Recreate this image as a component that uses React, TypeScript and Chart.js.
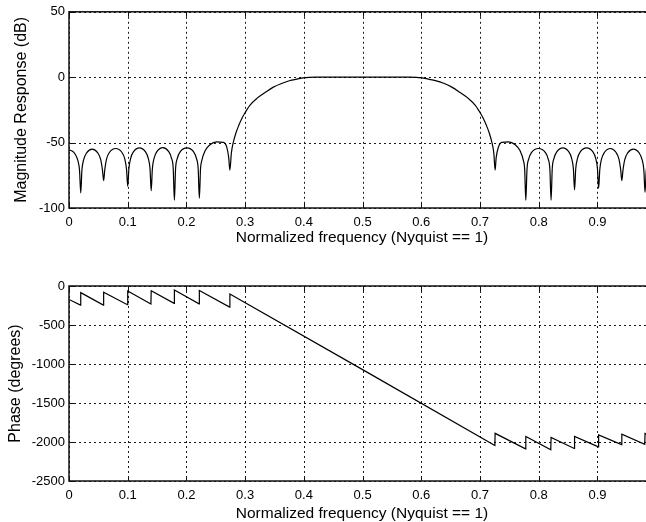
import React, { useEffect, useRef } from 'react';
import { Chart, registerables } from 'chart.js';

Chart.register(...registerables);

// ---------- data ----------
const magFreq = [
  0.000, 0.006, 0.010, 0.015, 0.018, 0.020,
  0.022, 0.025, 0.030, 0.0395, 0.049, 0.054, 0.057, 0.059,
  0.061, 0.064, 0.069, 0.0795, 0.090, 0.095, 0.098, 0.100,
  0.102, 0.105, 0.110, 0.120, 0.130, 0.135, 0.138, 0.140,
  0.142, 0.145, 0.150, 0.160, 0.1695, 0.1745, 0.1775, 0.1795,
  0.1815, 0.1845, 0.1895, 0.2007, 0.212, 0.217, 0.220, 0.222,
  0.224, 0.226, 0.2317, 0.240, 0.2516, 0.263, 0.2686, 0.272, 0.274,
  0.2765, 0.280, 0.284, 0.289, 0.295, 0.300, 0.308, 0.320, 0.334, 0.348, 0.362, 0.3765, 0.388, 0.399, 0.420,
  0.580, 0.601, 0.612, 0.624, 0.638, 0.652, 0.666, 0.680, 0.692, 0.700, 0.705, 0.711, 0.716, 0.720, 0.7235, 0.7257,
  0.7275, 0.7314, 0.737, 0.7484, 0.760, 0.7683, 0.774, 0.776, 0.778,
  0.780, 0.783, 0.788, 0.7995, 0.811, 0.816, 0.819, 0.821,
  0.823, 0.826, 0.831, 0.841, 0.851, 0.856, 0.859, 0.861,
  0.863, 0.866, 0.871, 0.8815, 0.892, 0.897, 0.900, 0.902,
  0.904, 0.907, 0.912, 0.922, 0.9315, 0.9365, 0.9395, 0.9415,
  0.9435, 0.9465, 0.9515, 0.961, 0.971, 0.976, 0.979, 0.981,
  0.983, 0.986,
];
const magDb = [
  -55.6, -56.6, -58.5, -63.6, -71.6, -88.5,
  -71, -63, -57.9, -55, -57.9, -63, -71, -79,
  -70.5, -62.5, -57.4, -54.5, -57.4, -62.5, -70.5, -83.5,
  -70, -62, -56.9, -54, -56.9, -62, -70, -86.8,
  -69.8, -61.8, -56.7, -53.8, -56.7, -61.8, -69.8, -94,
  -70, -62, -56.9, -54, -56.9, -62, -70, -92.6,
  -70, -64, -56.3, -51.7, -49.5, -49.8, -53.3, -61.5, -71,
  -58, -49.5, -43, -37, -31, -27, -21.5, -16.2, -11.7, -7.6, -4.8, -2.5, -1.5, -0.5, 0,
  0, -0.5, -1.5, -2.6, -4.6, -7.6, -11.7, -16.2, -21.5, -27, -31, -37, -43, -49.5, -58, -71,
  -61.5, -53.3, -49.8, -49.5, -51.7, -56.3, -64, -70, -94,
  -70.5, -62.5, -57.4, -54.5, -57.4, -62.5, -70.5, -94,
  -70, -62, -56.9, -54, -56.9, -62, -70, -86,
  -70, -62, -56.9, -54, -56.9, -62, -70, -85,
  -70.5, -62.5, -57.4, -54.5, -57.4, -62.5, -70.5, -79,
  -71, -63, -57.9, -55, -57.9, -63, -71, -88,
  -72, -63.5,
];

const phaseFreq = [
  0, 0.0195, 0.0200, 0.0585, 0.0590, 0.0995, 0.1000, 0.1395, 0.1400,
  0.1790, 0.1795, 0.2215, 0.2220, 0.2735, 0.2740, 0.5000,
  0.7253, 0.7257, 0.7775, 0.7780, 0.8205, 0.8210, 0.8605, 0.8610,
  0.9015, 0.9020, 0.9410, 0.9415, 0.9805, 0.9810, 0.9860,
];
const phaseDeg = [
  -172, -245, -85, -245, -80, -240, -65, -230, -60,
  -222, -52, -228, -58, -270, -103, -1072,
  -2045, -1889, -2088, -1930, -2100, -1942, -2083, -1928,
  -2062, -1910, -2034, -1900, -2030, -1890, -1912,
];

const xTicks = [0, 0.1, 0.2, 0.3, 0.4, 0.5, 0.6, 0.7, 0.8, 0.9];
const xTickLabels = ['0', '0.1', '0.2', '0.3', '0.4', '0.5', '0.6', '0.7', '0.8', '0.9'];
const magTicks = [-100, -50, 0, 50];
const magTickLabels = ['-100', '-50', '0', '50'];
const phaseTicks = [-2500, -2000, -1500, -1000, -500, 0];
const phaseTickLabels = ['-2500', '-2000', '-1500', '-1000', '-500', '0'];

const xTitle = 'Normalized frequency (Nyquist == 1)';
const magTitle = 'Magnitude Response (dB)';
const phaseTitle = 'Phase (degrees)';

// ---------- styling ----------
const FONT = "'Liberation Sans', Arial, Helvetica, sans-serif";

const matlabAxesPlugin = {
  id: 'matlabAxes',
  beforeDatasetsDraw(chart: any) {
    const { ctx, chartArea } = chart;
    const { left, right, top, bottom } = chartArea;
    const xs = chart.scales.x;
    const ys = chart.scales.y;
    ctx.save();
    ctx.strokeStyle = '#1a1a1a';
    ctx.lineWidth = 1;
    ctx.setLineDash([2, 3]);
    xs.ticks.forEach((t: any) => {
      const px = Math.round(xs.getPixelForValue(t.value)) + 0.5;
      ctx.beginPath();
      ctx.moveTo(px, top);
      ctx.lineTo(px, bottom);
      ctx.stroke();
    });
    ys.ticks.forEach((t: any) => {
      const py = Math.round(ys.getPixelForValue(t.value)) + 0.5;
      ctx.beginPath();
      ctx.moveTo(left, py);
      ctx.lineTo(right, py);
      ctx.stroke();
    });
    ctx.restore();
  },
  afterDatasetsDraw(chart: any) {
    const { ctx, chartArea } = chart;
    const { left, right, top, bottom } = chartArea;
    const xs = chart.scales.x;
    const ys = chart.scales.y;
    ctx.save();
    ctx.setLineDash([]);
    ctx.strokeStyle = '#111';
    ctx.lineWidth = 1;
    xs.ticks.forEach((t: any) => {
      const px = Math.round(xs.getPixelForValue(t.value)) + 0.5;
      ctx.beginPath();
      ctx.moveTo(px, bottom);
      ctx.lineTo(px, bottom - 5);
      ctx.moveTo(px, top);
      ctx.lineTo(px, top + 5);
      ctx.stroke();
    });
    ys.ticks.forEach((t: any) => {
      const py = Math.round(ys.getPixelForValue(t.value)) + 0.5;
      ctx.beginPath();
      ctx.moveTo(left, py);
      ctx.lineTo(left + 5, py);
      ctx.stroke();
    });
    ctx.lineWidth = 1.5;
    ctx.strokeRect(left, top, right - left, bottom - top);
    ctx.restore();
  },
};

function buildConfig(
  freq: number[], vals: number[],
  yTicks: number[], yLabels: string[], yMin: number, yMax: number,
  yTitle: string, yTitlePad: number,
  padTop: number, xAxisH: number, xTitlePad: number, smooth: boolean,
): any {
  return {
    type: 'line',
    data: {
      datasets: [{
        data: freq.map((f, i) => ({ x: f, y: vals[i] })),
        borderColor: '#000',
        borderWidth: 1.2,
        pointRadius: 0,
        fill: false,
        tension: 0,
        cubicInterpolationMode: smooth ? 'monotone' : 'default',
      }],
    },
    options: {
      animation: false,
      responsive: false,
      devicePixelRatio: 1,
      events: [],
      layout: { padding: { top: padTop, right: 15, left: 0, bottom: 0 } },
      plugins: { legend: { display: false }, tooltip: { enabled: false } },
      scales: {
        x: {
          type: 'linear',
          min: 0,
          max: 0.998,
          afterBuildTicks: (s: any) => { s.ticks = xTicks.map((v) => ({ value: v })); },
          afterFit: (s: any) => { s.height = xAxisH; },
          ticks: {
            autoSkip: false,
            maxRotation: 0,
            padding: 7,
            color: '#000',
            font: { family: FONT, size: 13 },
            callback: (_v: any, i: number) => xTickLabels[i],
          },
          grid: { display: false, drawTicks: false },
          border: { display: false },
          title: {
            display: true,
            text: xTitle,
            color: '#000',
            font: { family: FONT, size: 15.5 },
            padding: { top: 0, bottom: xTitlePad },
          },
        },
        y: {
          type: 'linear',
          min: yMin,
          max: yMax,
          afterBuildTicks: (s: any) => { s.ticks = yTicks.map((v) => ({ value: v })); },
          afterFit: (s: any) => { s.width = 69; },
          ticks: {
            padding: 4,
            color: '#000',
            font: { family: FONT, size: 13 },
            callback: (_v: any, i: number) => yLabels[i],
          },
          grid: { display: false, drawTicks: false },
          border: { display: false },
          title: {
            display: true,
            text: yTitle,
            color: '#000',
            font: { family: FONT, size: 16 },
            padding: { top: yTitlePad, bottom: 0 },
          },
        },
      },
    },
    plugins: [matlabAxesPlugin],
  };
}

export default function App() {
  const magRef = useRef<HTMLCanvasElement>(null);
  const phRef = useRef<HTMLCanvasElement>(null);

  useEffect(() => {
    const c1 = new Chart(
      magRef.current as HTMLCanvasElement,
      buildConfig(magFreq, magDb, magTicks, magTickLabels, -100, 50, magTitle, 12.4, 11, 52, 12.7, true),
    );
    const c2 = new Chart(
      phRef.current as HTMLCanvasElement,
      buildConfig(phaseFreq, phaseDeg, phaseTicks, phaseTickLabels, -2500, 0, phaseTitle, 6.4, 26, 43, 1.4, false),
    );
    return () => {
      c1.destroy();
      c2.destroy();
    };
  }, []);

  return (
    <div style={{ position: 'fixed', left: 0, top: 0, width: 646, height: 522, overflow: 'hidden', background: '#fff' }}>
      <canvas ref={magRef} width={670} height={260} style={{ position: 'absolute', left: 0, top: 0 }} />
      <canvas ref={phRef} width={670} height={264} style={{ position: 'absolute', left: 0, top: 260 }} />
    </div>
  );
}
